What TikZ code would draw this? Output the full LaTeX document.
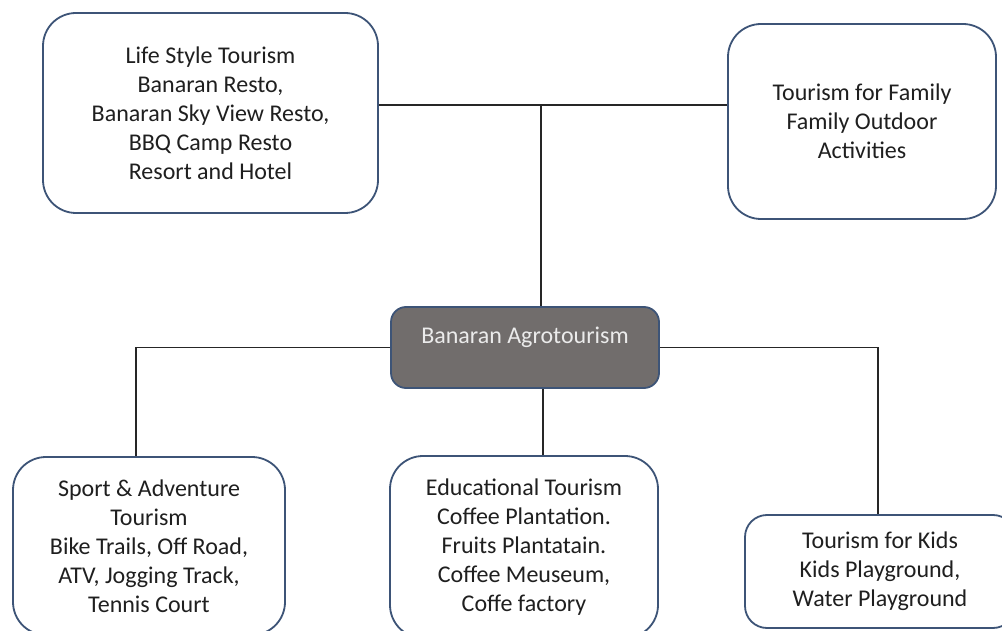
\documentclass[tikz,border=0pt]{standalone}
\usepackage{fontspec}
\setmainfont{Carlito}
\usetikzlibrary{positioning}

\begin{document}
\begin{tikzpicture}[x=1pt,y=-1pt,
    box/.style={draw=boxline,line width=1.8pt,rounded corners=33pt,align=center,
                font=\fontsize{24}{29}\selectfont,text=black!88},
    hubbox/.style={draw=boxline,line width=1.8pt,fill=hubfill,rounded corners=15pt,
                   font=\fontsize{24}{29}\selectfont,text=white!92!black,
                   minimum width=268pt,inner sep=0pt,text height=36pt,text depth=45pt},
    link/.style={draw=black!85,line width=1.5pt}]
  \definecolor{boxline}{HTML}{3D5477}
  \definecolor{hubfill}{HTML}{716D6C}
  \clip (0,0) rectangle (1002,631);
  \fill[white] (0,0) rectangle (1002,631);
  \node (life) [box,minimum width=335pt,minimum height=200pt] at (210.5,113)
    {Life Style Tourism\\Banaran Resto,\\Banaran Sky View Resto,\\BBQ Camp Resto\\Resort and Hotel};
  \node (family) [box,minimum width=268pt,minimum height=195pt] at (862,121.5)
    {Tourism for Family\\Family Outdoor\\Activities};
  \node (agro) [hubbox] at (525,347.5) {Banaran Agrotourism};
  \node (sport) [box,minimum width=272pt,minimum height=178pt] at (149,546)
    {Sport \& Adventure\\Tourism\\Bike Trails, Off Road,\\ATV, Jogging Track,\\Tennis Court};
  \node (edu) [box,minimum width=268pt,minimum height=182pt] at (524,547)
    {Educational Tourism\\Coffee Plantation.\\Fruits Plantatain.\\Coffee Meuseum,\\Coffe factory};
  \node (kids) [box,minimum width=270pt,minimum height=113pt,rounded corners=22pt] at (880,571.5)
    {Tourism for Kids\\Kids Playground,\\Water Playground};
  \coordinate (top) at (541,105);
  \path[link]
    (life.east |- top) -- (family.west |- top)
    (top) -- (agro.north -| top)
    (agro.west) -| ([xshift=-13pt]sport.north)
    (agro.east) -| ([xshift=-2pt]kids.north)
    ([xshift=18pt]agro.south) -- ([xshift=19pt]edu.north);
\end{tikzpicture}
\end{document}
